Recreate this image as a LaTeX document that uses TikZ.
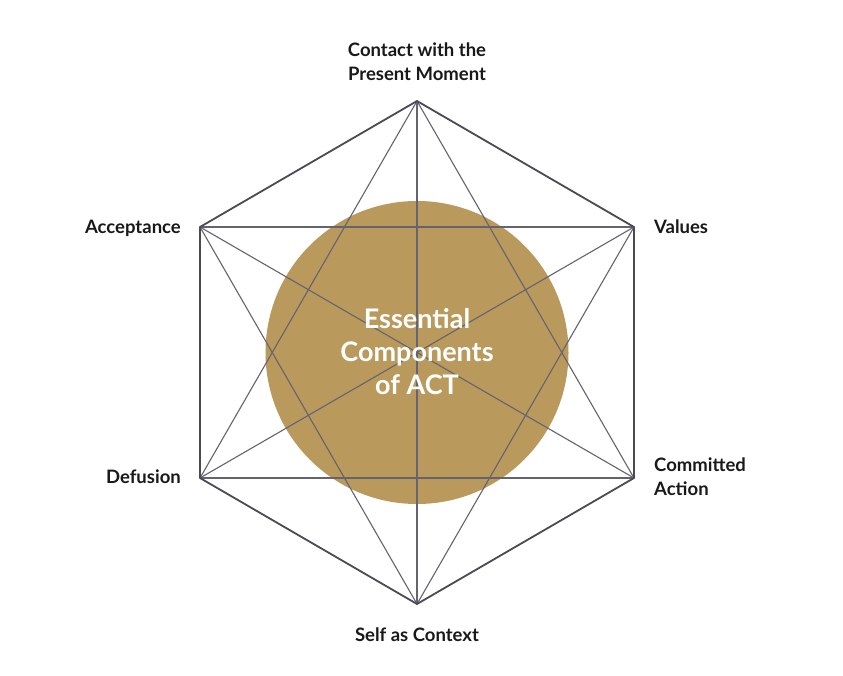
\documentclass[tikz,border=0pt]{standalone}
\usepackage{fontspec}
\setmainfont{Lato}
\definecolor{gold}{RGB}{185,153,92}
\definecolor{edgecol}{RGB}{74,74,86}
\definecolor{diagcol}{RGB}{100,100,112}
\definecolor{labelcol}{RGB}{25,25,25}
\begin{document}
\begin{tikzpicture}[x=1pt,y=-1pt,
  hexedge/.style={draw=edgecol,line width=1.8pt,line join=round},
  diag/.style={draw=diagcol,line width=1.1pt},
  lab/.style={font=\bfseries\fontsize{18.5}{24}\selectfont,text=labelcol,inner sep=0pt,align=center},
  centerlab/.style={font=\bfseries\fontsize{27}{33}\selectfont,text=white,align=center,inner sep=0pt}]
\useasboundingbox (0,0) rectangle (843,675);
\fill[white] (0,0) rectangle (843,675);
\coordinate (c) at (417,352.5);
\fill[gold] (c) circle (151.5);
\coordinate (v0) at (417,101);
\coordinate (v1) at (634,227);
\coordinate (v2) at (634,478);
\coordinate (v3) at (417,604);
\coordinate (v4) at (200,478);
\coordinate (v5) at (200,227);
\foreach \a/\b in {0/2,1/3,2/4,3/5,4/0,5/1,0/3,1/4,2/5}
  \draw[diag] (v\a) -- (v\b);
\draw[hexedge] (v0) -- (v1) -- (v2) -- (v3) -- (v4) -- (v5) -- cycle;
\node[centerlab] (ctext) at (417,352) {Essential\\Components\\of ACT};
\node[lab,anchor=base] (ltop) at (417,80) {Contact with the\\Present Moment};
\node[lab,anchor=base east] (lacc) at (181,233) {Acceptance};
\node[lab,anchor=base west] (lval) at (654,233) {Values};
\node[lab,anchor=base east] (ldef) at (181,483) {Defusion};
\node[lab,anchor=base west,align=left] (lcom) at (654,495) {Committed\\Action};
\node[lab,anchor=base] (lself) at (417,641) {Self as Context};
\end{tikzpicture}
\end{document}
